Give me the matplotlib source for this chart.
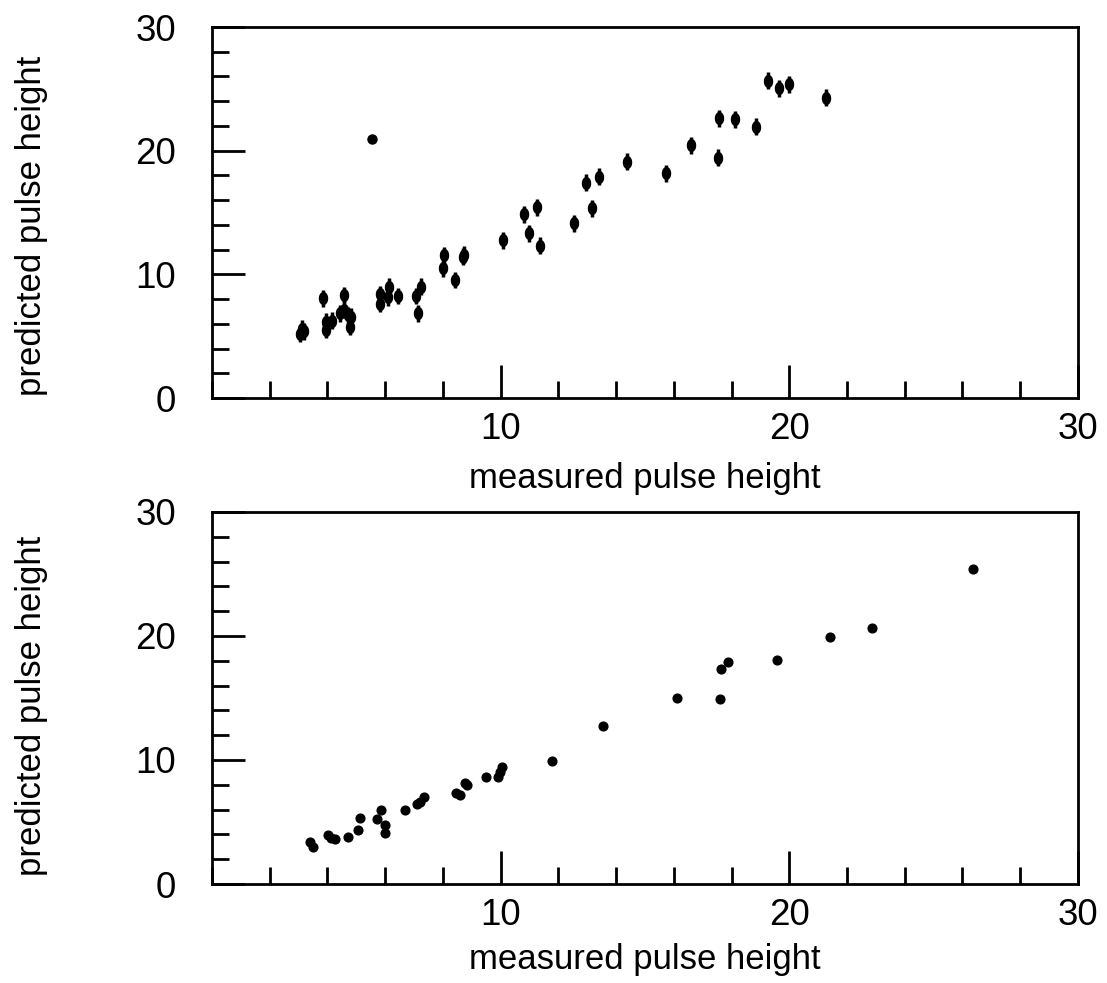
import numpy as np
import matplotlib
matplotlib.use("Agg")
import matplotlib.pyplot as plt
from matplotlib.ticker import MultipleLocator, FixedLocator

plt.rcParams['font.family'] = ['Liberation Sans', 'DejaVu Sans']

# top panel: measured vs predicted, with error bars
top_x = [3.05, 3.12, 3.18, 3.83, 3.94, 3.96, 4.16, 4.44, 4.56, 4.58, 4.70, 4.83, 4.78,
         5.81, 5.82, 6.11, 6.13, 6.46, 7.06, 7.15, 7.23, 8.00, 8.04, 8.42, 8.68, 8.74,
         10.08, 10.81, 11.00, 11.25, 11.35, 12.54, 12.96, 13.17, 13.40, 14.38,
         15.74, 16.60, 17.52, 17.58, 18.13, 18.85, 19.27, 19.65, 19.99, 21.28]
top_y = [5.2, 5.6, 5.4, 8.06, 5.50, 6.17, 6.25, 6.85, 8.33, 7.15, 6.71, 6.57, 5.77,
         8.41, 7.60, 8.14, 9.00, 8.25, 8.25, 6.85, 9.00, 10.48, 11.56, 9.54, 11.42, 11.6,
         12.77, 14.87, 13.31, 15.41, 12.31, 14.12, 17.41, 15.33, 17.89, 19.1,
         18.16, 20.45, 19.43, 22.61, 22.53, 21.93, 25.65, 25.03, 25.36, 24.28]
top_err = 0.68

# single point without error bar
outlier_x = [5.53]
outlier_y = [20.94]

# bottom panel
bot_x = [3.41, 3.51, 4.03, 4.11, 4.26, 4.72, 5.06, 5.14, 5.70, 5.87, 6.01, 6.01,
         6.70, 7.10, 7.20, 7.35, 8.47, 8.58, 8.75, 8.85, 9.50, 9.91, 9.97, 10.06,
         11.78, 13.54, 16.10, 17.61, 17.64, 17.87, 19.56, 21.41, 22.88, 26.38]
bot_y = [3.41, 2.96, 3.95, 3.68, 3.60, 3.82, 4.35, 5.30, 5.24, 5.97, 4.76, 4.09,
         5.97, 6.45, 6.60, 7.04, 7.37, 7.18, 8.12, 7.98, 8.60, 8.65, 9.06, 9.41,
         9.95, 12.77, 15.03, 14.89, 17.34, 17.93, 18.09, 19.94, 20.67, 25.38]

x_ticks = [10, 20, 30]
y_ticks = [0, 10, 20, 30]

# vertically elongated ellipse marker
t = np.linspace(0, 2 * np.pi, 40)
ellipse = list(zip(0.68 * np.cos(t), np.sin(t)))


def style_axes(ax, xlabel_y, ylabel_y):
    ax.set_xlim(0, 30)
    ax.set_ylim(0, 30)
    ax.xaxis.set_major_locator(FixedLocator(x_ticks))
    ax.yaxis.set_major_locator(FixedLocator(y_ticks))
    ax.xaxis.set_minor_locator(MultipleLocator(2))
    ax.yaxis.set_minor_locator(MultipleLocator(2))
    ax.tick_params(axis='both', which='major', direction='in', length=24, width=2,
                   labelsize=26.5, top=False, right=False)
    ax.tick_params(axis='both', which='minor', direction='in', length=12, width=2,
                   top=False, right=False)
    ax.tick_params(axis='x', which='major', pad=10)
    ax.tick_params(axis='y', which='major', pad=26)
    for s in ax.spines.values():
        s.set_linewidth(2)
    ax.set_xlabel('measured pulse height', fontsize=25)
    ax.set_ylabel('predicted pulse height', fontsize=25)
    ax.xaxis.set_label_coords(0.5, xlabel_y)
    ax.yaxis.set_label_coords(-0.189, ylabel_y)


fig = plt.figure(figsize=(11.07, 9.83), dpi=100)
ax1 = fig.add_axes([0.1915, 0.5951, 0.7822, 0.3774])
ax2 = fig.add_axes([0.1915, 0.1007, 0.7822, 0.3785])

ax1.errorbar(top_x, top_y, yerr=top_err, fmt='none', ecolor='black', elinewidth=2.5, capsize=0)
ax1.plot(top_x, top_y, linestyle='none', marker=ellipse, markersize=8.5, color='black')
ax1.plot(outlier_x, outlier_y, linestyle='none', marker='o', markersize=6.5, color='black')
style_axes(ax1, -0.172, 0.464)

ax2.plot(bot_x, bot_y, linestyle='none', marker='o', markersize=6.3, color='black')
style_axes(ax2, -0.159, 0.478)

fig.savefig('out.png', dpi=100)
